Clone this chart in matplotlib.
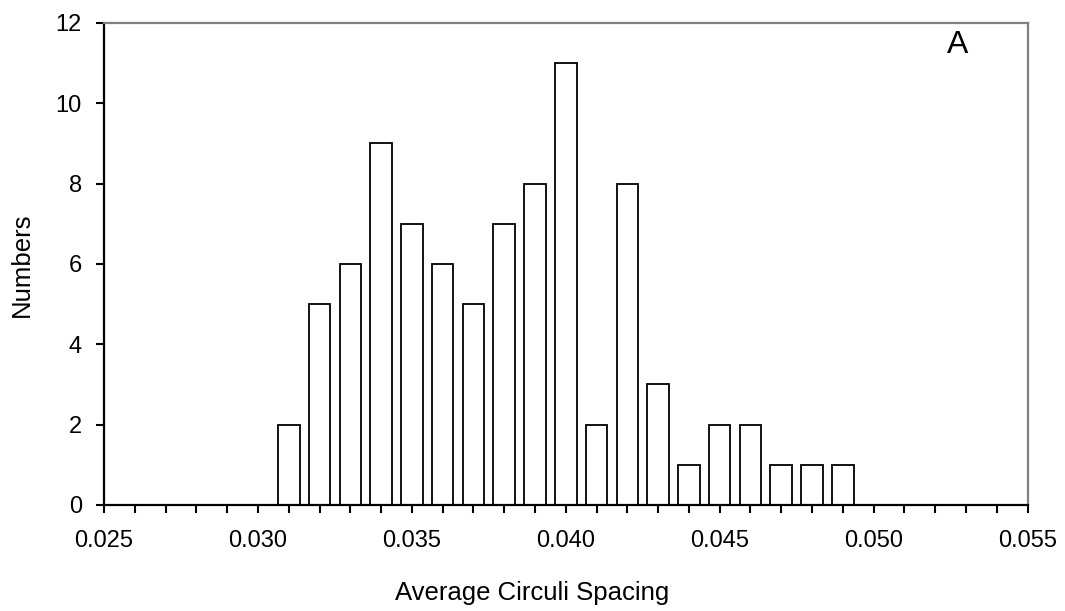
import numpy as np
import matplotlib.pyplot as plt

plt.rcParams['font.family'] = ['Liberation Sans', 'DejaVu Sans']

# bin centres and counts
spacing = [0.031, 0.032, 0.033, 0.034, 0.035, 0.036, 0.037, 0.038, 0.039, 0.040,
           0.041, 0.042, 0.043, 0.044, 0.045, 0.046, 0.047, 0.048, 0.049]
counts = [2, 5, 6, 9, 7, 6, 5, 7, 8, 11, 2, 8, 3, 1, 2, 2, 1, 1, 1]
x_ticks = [0.025, 0.030, 0.035, 0.040, 0.045, 0.050, 0.055]
y_ticks = [0, 2, 4, 6, 8, 10, 12]

fig = plt.figure(figsize=(10.65, 6.11), dpi=100)
ax = fig.add_axes([0.0977, 0.1735, 0.8671, 0.7889])

ax.bar(spacing, counts, width=0.0007, color='white', edgecolor='black', linewidth=1.3)

ax.set_xlim(0.025, 0.055)
ax.set_ylim(0, 12)
ax.set_xticks(x_ticks)
ax.set_xticklabels([f'{v:.3f}' for v in x_ticks])
ax.set_xticks(np.arange(0.025, 0.0551, 0.001), minor=True)
ax.set_yticks(y_ticks)

ax.tick_params(axis='both', which='both', direction='out', length=6, width=1.5,
               labelsize=17)
ax.tick_params(axis='x', which='major', pad=12)
ax.tick_params(axis='y', pad=10)
ax.tick_params(axis='x', which='minor', labelbottom=False)

for side in ['left', 'bottom']:
    ax.spines[side].set_linewidth(1.6)
    ax.spines[side].set_color('black')
for side in ['top', 'right']:
    ax.spines[side].set_linewidth(1.6)
    ax.spines[side].set_color('#808080')

ax.text(0.924, 0.954, 'A', transform=ax.transAxes, fontsize=23, ha='center', va='center')

fig.text(0.5, 0.018, 'Average Circuli Spacing', fontsize=18.5, ha='center', va='baseline')
fig.text(0.021, 0.566, 'Numbers', fontsize=18.5, ha='center', va='center', rotation=90)

plt.savefig('out.png', dpi=100)
